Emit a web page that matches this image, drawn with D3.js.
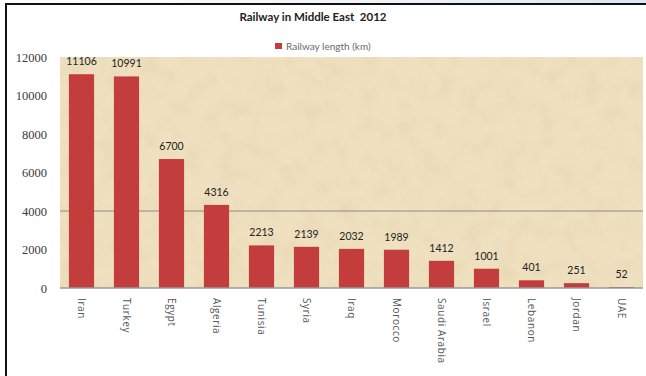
<!DOCTYPE html>
<html>
<head>
<meta charset="utf-8">
<script src="https://cdn.jsdelivr.net/npm/d3@7/dist/d3.min.js"></script>
<style>
  html, body { margin: 0; padding: 0; background: #ffffff; }
  svg { display: block; }
</style>
</head>
<body>
<svg id="chart" width="646" height="376"></svg>
<script>
const categories = ["Iran", "Turkey", "Egypt", "Algeria", "Tunisia", "Syria", "Iraq", "Morocco", "Saudi Arabia", "Israel", "Lebanon", "Jordan", "UAE"];
const railwayLength = [11106, 10991, 6700, 4316, 2213, 2139, 2032, 1989, 1412, 1001, 401, 251, 52];
const yTicks = [0, 2000, 4000, 6000, 8000, 10000, 12000];
const gridValues = [4000];
const chartTitle = "Railway in Middle East  2012";
const seriesName = "Railway length (km)";

const W = 646, H = 376;
const plot = { left: 60, right: 643, top: 57, bottom: 288 };
const svg = d3.select("#chart");
const defs = svg.append("defs");

// parchment texture
const f = defs.append("filter").attr("id", "parch").attr("x", 0).attr("y", 0).attr("width", "100%").attr("height", "100%");
f.append("feTurbulence").attr("type", "fractalNoise").attr("baseFrequency", "0.05").attr("numOctaves", 4).attr("seed", 7).attr("result", "noise");
f.append("feColorMatrix").attr("in", "noise").attr("type", "matrix")
  .attr("values", "0 0 0 0 0.74  0 0 0 0 0.62  0 0 0 0 0.40  1.6 0 0 0 -0.65")
  .attr("result", "tint");
f.append("feComposite").attr("in", "tint").attr("in2", "SourceGraphic").attr("operator", "in");

const topGrad = defs.append("linearGradient").attr("id", "topband").attr("x1", 0).attr("x2", 1);
topGrad.append("stop").attr("offset", "0%").attr("stop-color", "#ffffff");
topGrad.append("stop").attr("offset", "60%").attr("stop-color", "#eef3f8");
topGrad.append("stop").attr("offset", "100%").attr("stop-color", "#dbe6f0");

// outer background & frame
svg.append("rect").attr("x", 0).attr("y", 0).attr("width", W).attr("height", 4).attr("fill", "url(#topband)");
svg.append("line").attr("x1", 5).attr("x2", W).attr("y1", 4).attr("y2", 4).attr("stroke", "#111").attr("stroke-width", 2);
svg.append("line").attr("x1", 6).attr("x2", 6).attr("y1", 4).attr("y2", H).attr("stroke", "#111").attr("stroke-width", 2);

// plot background
svg.append("rect").attr("x", plot.left).attr("y", plot.top)
  .attr("width", plot.right - plot.left).attr("height", plot.bottom - plot.top)
  .attr("fill", "#efe0bf");
svg.append("rect").attr("x", plot.left).attr("y", plot.top)
  .attr("width", plot.right - plot.left).attr("height", plot.bottom - plot.top)
  .attr("fill", "#efe0bf").attr("filter", "url(#parch)").attr("opacity", 0.5);

const x = d3.scaleBand().domain(categories).range([59, 644]).paddingInner(0.44).paddingOuter(0.22);
const y = d3.scaleLinear().domain([0, 12000]).range([plot.bottom, plot.top]);

// gridline
svg.append("g").selectAll("line").data(gridValues).join("line")
  .attr("x1", plot.left).attr("x2", plot.right)
  .attr("y1", d => y(d)).attr("y2", d => y(d))
  .attr("stroke", "#8c8c8c").attr("stroke-width", 1.2);

// y axis
const yAxis = svg.append("g").attr("transform", `translate(${plot.left},0)`)
  .call(d3.axisLeft(y).tickValues(yTicks).tickFormat(d3.format("d")).tickSize(0).tickPadding(13));
yAxis.select(".domain").remove();
yAxis.selectAll("text").attr("fill", "#3a3a3a").style("font-family", "'Liberation Serif', 'DejaVu Serif', serif").style("font-size", "12.5px");

// bars
svg.append("g").selectAll("rect").data(railwayLength).join("rect")
  .attr("x", (d, i) => x(categories[i]))
  .attr("width", x.bandwidth())
  .attr("y", d => y(d))
  .attr("height", d => y(0) - y(d))
  .attr("fill", "#c43d3d");

// x axis
const xAxis = svg.append("g").attr("transform", `translate(0,${plot.bottom})`)
  .call(d3.axisBottom(x).tickSize(0).tickPadding(0));
xAxis.select(".domain").attr("d", `M${plot.left},0H${plot.right}`).attr("stroke", "#9a9a9a").attr("stroke-width", 1.5);
xAxis.selectAll("text")
  .attr("transform", "translate(0,10) rotate(90)")
  .attr("x", 0).attr("y", 0).attr("dy", "0.35em")
  .attr("text-anchor", "start")
  .attr("fill", "#555")
  .style("letter-spacing", "0.6px")
  .style("font-family", "'Open Sans', sans-serif").style("font-size", "10px");

// data labels
svg.append("g").selectAll("text").data(railwayLength).join("text")
  .attr("x", (d, i) => x(categories[i]) + x.bandwidth() / 2)
  .attr("y", d => y(d) - 9)
  .attr("text-anchor", "middle")
  .attr("fill", "#222")
  .style("font-family", "Lato, sans-serif").style("font-size", "10.5px")
  .text(d => d);

// title
svg.append("text").attr("x", 313).attr("y", 21).attr("text-anchor", "middle")
  .attr("xml:space", "preserve").style("white-space", "pre")
  .attr("fill", "#222").style("font-family", "Lato, sans-serif").style("font-weight", "bold").style("font-size", "11.5px")
  .text(chartTitle);

// legend
const lg = svg.append("g").attr("transform", "translate(275,43)");
lg.append("rect").attr("width", 7).attr("height", 6).attr("fill", "#c43d3d");
lg.append("text").attr("x", 11).attr("y", 3).attr("dy", "0.35em").attr("fill", "#6a6a6a")
  .style("font-family", "Lato, sans-serif").style("font-size", "10px").text(seriesName);
</script>
</body>
</html>
